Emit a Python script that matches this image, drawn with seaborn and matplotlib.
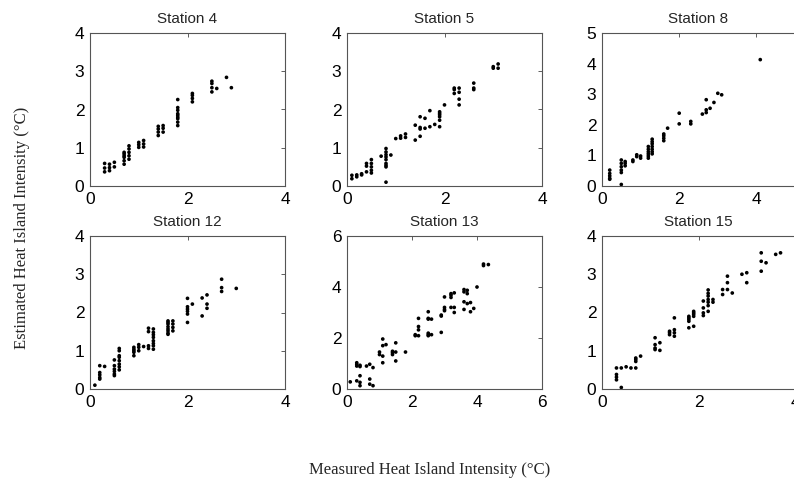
import matplotlib
matplotlib.use("Agg")
import matplotlib.pyplot as plt
import seaborn as sns

# measured (x) vs estimated (y) heat island intensity
st4_x = [0.3, 0.3, 0.3, 0.4, 0.4, 0.4, 0.5, 0.5,
         0.7, 0.7, 0.7, 0.7, 0.7, 0.7, 0.8, 0.8, 0.8, 0.8, 0.8,
         1.0, 1.0, 1.0, 1.1, 1.1, 1.1, 1.4, 1.4, 1.4, 1.4, 1.5, 1.5, 1.5,
         1.8, 1.8, 1.8, 1.8, 1.8, 1.8, 1.8, 1.8, 1.8,
         2.1, 2.1, 2.1, 2.1, 2.5, 2.5, 2.5, 2.5, 2.6, 2.8, 2.9]
st4_y = [0.59, 0.47, 0.37, 0.57, 0.48, 0.40, 0.62, 0.50,
         0.88, 0.84, 0.79, 0.75, 0.66, 0.57, 1.05, 0.97, 0.88, 0.79, 0.70,
         1.14, 1.08, 1.01, 1.19, 1.10, 1.02, 1.56, 1.49, 1.41, 1.32, 1.58, 1.51, 1.41,
         2.26, 2.05, 1.98, 1.89, 1.85, 1.80, 1.76, 1.67, 1.58,
         2.42, 2.37, 2.29, 2.20, 2.74, 2.68, 2.57, 2.46, 2.55, 2.84, 2.57]

st5_x = [0.1, 0.1, 0.2, 0.2, 0.3, 0.3, 0.4, 0.4, 0.4, 0.5, 0.5, 0.5, 0.5, 0.5,
         0.7, 0.8, 0.8, 0.8, 0.8, 0.8, 0.8, 0.8, 0.8, 0.8, 0.9,
         1.0, 1.1, 1.1, 1.2, 1.2, 1.4, 1.4, 1.5, 1.5, 1.5, 1.5, 1.6, 1.6,
         1.7, 1.7, 1.8, 1.9, 1.9, 1.9, 1.9, 1.9, 1.9, 2.0,
         2.2, 2.2, 2.2, 2.3, 2.3, 2.3, 2.3, 2.6, 2.6, 2.6, 3.0, 3.0, 3.1, 3.1]
st5_y = [0.28, 0.19, 0.29, 0.24, 0.32, 0.29, 0.59, 0.52, 0.37, 0.69, 0.59, 0.50, 0.41, 0.34,
         0.78, 0.98, 0.89, 0.82, 0.76, 0.69, 0.59, 0.54, 0.50, 0.10, 0.81,
         1.24, 1.31, 1.25, 1.36, 1.27, 1.59, 1.20, 1.81, 1.53, 1.49, 1.30, 1.77, 1.51,
         1.97, 1.55, 1.61, 1.94, 1.90, 1.86, 1.81, 1.72, 1.55, 2.12,
         2.56, 2.52, 2.42, 2.56, 2.45, 2.27, 2.12, 2.69, 2.56, 2.52, 3.12, 3.08, 3.19, 3.08]

st8_x = [0.2, 0.2, 0.2, 0.2, 0.2, 0.5, 0.5, 0.5, 0.5, 0.5, 0.5, 0.6, 0.6, 0.6,
         0.8, 0.8, 0.9, 0.9, 1.0, 1.0,
         1.2, 1.2, 1.2, 1.2, 1.2, 1.2, 1.3, 1.3, 1.3, 1.3, 1.3, 1.3, 1.3,
         1.6, 1.6, 1.6, 1.6, 1.7, 2.0, 2.0, 2.3, 2.3, 2.6, 2.7, 2.7, 2.7,
         2.8, 2.9, 3.0, 3.1, 4.1]
st8_y = [0.52, 0.41, 0.33, 0.25, 0.22, 0.85, 0.74, 0.63, 0.52, 0.44, 0.05, 0.80, 0.74, 0.66,
         0.85, 0.80, 1.02, 0.96, 0.98, 0.91,
         1.29, 1.20, 1.12, 1.05, 0.98, 0.91, 1.53, 1.45, 1.38, 1.29, 1.20, 1.12, 1.05,
         1.70, 1.64, 1.56, 1.48, 1.89, 2.38, 2.03, 2.11, 2.03, 2.35, 2.82, 2.49, 2.40,
         2.54, 2.73, 3.03, 2.98, 4.13]

st12_x = [0.1, 0.2, 0.2, 0.2, 0.2, 0.2, 0.3, 0.5, 0.5, 0.5, 0.5, 0.5, 0.5,
          0.6, 0.6, 0.6, 0.6, 0.6, 0.6, 0.6, 0.6,
          0.9, 0.9, 0.9, 0.9, 0.9, 1.0, 1.0, 1.0, 1.1, 1.2, 1.2, 1.2, 1.2,
          1.3, 1.3, 1.3, 1.3, 1.3, 1.3, 1.3, 1.3,
          1.6, 1.6, 1.6, 1.6, 1.6, 1.6, 1.6, 1.6, 1.7, 1.7, 1.7, 1.7,
          2.0, 2.0, 2.0, 2.0, 2.0, 2.0, 2.1, 2.3, 2.3, 2.4, 2.4, 2.4,
          2.7, 2.7, 2.7, 3.0]
st12_y = [0.10, 0.61, 0.43, 0.37, 0.30, 0.26, 0.59, 0.76, 0.61, 0.52, 0.46, 0.39, 0.35,
          1.06, 1.00, 0.87, 0.83, 0.74, 0.65, 0.58, 0.50,
          1.09, 1.04, 1.00, 0.96, 0.87, 1.16, 1.09, 1.00, 1.11, 1.59, 1.50, 1.13, 1.06,
          1.57, 1.48, 1.42, 1.35, 1.26, 1.19, 1.13, 1.04,
          1.78, 1.74, 1.70, 1.63, 1.57, 1.52, 1.46, 1.43, 1.78, 1.70, 1.61, 1.52,
          2.37, 2.15, 2.09, 2.03, 1.96, 1.74, 2.22, 2.38, 1.91, 2.46, 2.22, 2.11,
          2.87, 2.65, 2.55, 2.63]

st13_x = [0.1, 0.3, 0.3, 0.3, 0.3, 0.4, 0.4, 0.4, 0.4, 0.4, 0.6, 0.7, 0.7, 0.7, 0.8, 0.8,
          1.0, 1.0, 1.1, 1.1, 1.1, 1.1, 1.2, 1.4, 1.4, 1.4, 1.5, 1.5, 1.5, 1.8,
          2.1, 2.1, 2.2, 2.2, 2.2, 2.2, 2.5, 2.5, 2.5, 2.5, 2.5, 2.5, 2.6, 2.6,
          2.9, 2.9, 2.9, 3.0, 3.0, 3.0, 3.0, 3.2, 3.2, 3.2, 3.2, 3.3, 3.3, 3.3,
          3.6, 3.6, 3.6, 3.6, 3.7, 3.7, 3.7, 3.8, 3.8, 3.9, 4.0, 4.2, 4.2, 4.35]
st13_y = [0.28, 1.03, 0.97, 0.90, 0.32, 0.93, 0.88, 0.52, 0.26, 0.13, 0.90, 0.97, 0.39, 0.19, 0.84, 0.13,
          1.45, 1.35, 1.96, 1.03, 1.70, 1.29, 1.74, 1.48, 1.42, 1.35, 1.81, 1.45, 1.10, 1.45,
          2.13, 2.09, 2.77, 2.45, 2.32, 2.09, 3.03, 2.77, 2.74, 2.19, 2.13, 2.09, 2.74, 2.13,
          2.90, 2.86, 2.22, 3.61, 3.20, 3.12, 3.07, 3.74, 3.68, 3.59, 3.20, 3.77, 3.20, 3.00,
          3.90, 3.81, 3.42, 3.12, 3.87, 3.74, 3.35, 3.39, 3.03, 3.16, 4.00, 4.90, 4.84, 4.88]

st15_x = [0.3, 0.3, 0.3, 0.3, 0.4, 0.4, 0.5, 0.6, 0.7, 0.7, 0.7, 0.7, 0.8,
          1.1, 1.1, 1.1, 1.1, 1.2, 1.2, 1.4, 1.4, 1.4, 1.5, 1.5, 1.5, 1.5,
          1.8, 1.8, 1.8, 1.8, 1.8, 1.9, 1.9, 1.9, 1.9, 1.9,
          2.1, 2.1, 2.1, 2.1, 2.2, 2.2, 2.2, 2.2, 2.2, 2.2, 2.2, 2.3, 2.3,
          2.5, 2.5, 2.6, 2.6, 2.6, 2.7, 2.9, 3.0, 3.0, 3.3, 3.3, 3.3, 3.4, 3.6, 3.7]
st15_y = [0.55, 0.38, 0.31, 0.24, 0.55, 0.04, 0.58, 0.55, 0.81, 0.77, 0.72, 0.55, 0.86,
          1.34, 1.16, 1.07, 1.03, 1.21, 1.01, 1.51, 1.47, 1.42, 1.86, 1.55, 1.47, 1.38,
          1.90, 1.86, 1.82, 1.77, 1.60, 2.03, 1.99, 1.95, 1.90, 1.64,
          2.30, 2.12, 1.99, 1.92, 2.59, 2.50, 2.43, 2.34, 2.27, 2.18, 2.03, 2.34, 2.27,
          2.60, 2.47, 2.95, 2.78, 2.60, 2.51, 3.00, 3.04, 2.78, 3.56, 3.34, 3.08, 3.30, 3.52, 3.56]

titles = ["Station 4", "Station 5", "Station 8", "Station 12", "Station 13", "Station 15"]
xs = [st4_x, st5_x, st8_x, st12_x, st13_x, st15_x]
ys = [st4_y, st5_y, st8_y, st12_y, st13_y, st15_y]
x_ticks = [[0, 2, 4], [0, 2, 4], [0, 2, 4], [0, 2, 4], [0, 2, 4, 6], [0, 2, 4]]
y_ticks = [[0, 1, 2, 3, 4], [0, 1, 2, 3, 4], [0, 1, 2, 3, 4, 5],
           [0, 1, 2, 3, 4], [0, 2, 4, 6], [0, 1, 2, 3, 4]]
limits = [(4, 4), (4, 4), (5, 5), (4, 4), (6, 6), (4, 4)]

sns.set_style("white")
plt.rcParams['font.family'] = ['Liberation Sans', 'DejaVu Sans']

W, H = 794, 484
fig = plt.figure(figsize=(W / 100, H / 100), dpi=100)

lefts = [90, 347, 602]
widths = [195, 195, 193]
tops = [33, 236]
ah = 153

for i in range(6):
    r, c = divmod(i, 3)
    ax = fig.add_axes([lefts[c] / W, 1 - (tops[r] + ah) / H, widths[c] / W, ah / H])
    sns.scatterplot(x=xs[i], y=ys[i], ax=ax, color='black', s=7,
                    linewidth=0, edgecolor='none')
    ax.set_xlim(0, limits[i][0])
    ax.set_ylim(0, limits[i][1])
    ax.set_xticks(x_ticks[i])
    ax.set_yticks(y_ticks[i])
    # right column runs off the page edge, so its right-hand ticks are not seen
    ax.tick_params(direction='in', length=3, width=0.6, labelsize=12.5,
                   top=True, right=(c < 2), pad=4, colors='#444444',
                   labelcolor='black')
    for s in ax.spines.values():
        s.set_color('#555555')
        s.set_linewidth(0.8)
    ax.set_title(titles[i], fontsize=11, pad=7)

fig.text(22 / W, 1 - 228 / H, "Estimated Heat Island Intensity (°C)",
         rotation=90, ha='center', va='center', fontsize=12,
         family=['Liberation Serif', 'DejaVu Serif'])
fig.text(430 / W, 1 - 470 / H, "Measured Heat Island Intensity (°C)",
         ha='center', va='center', fontsize=12,
         family=['Liberation Serif', 'DejaVu Serif'])

fig.savefig("out.png", dpi=100)
